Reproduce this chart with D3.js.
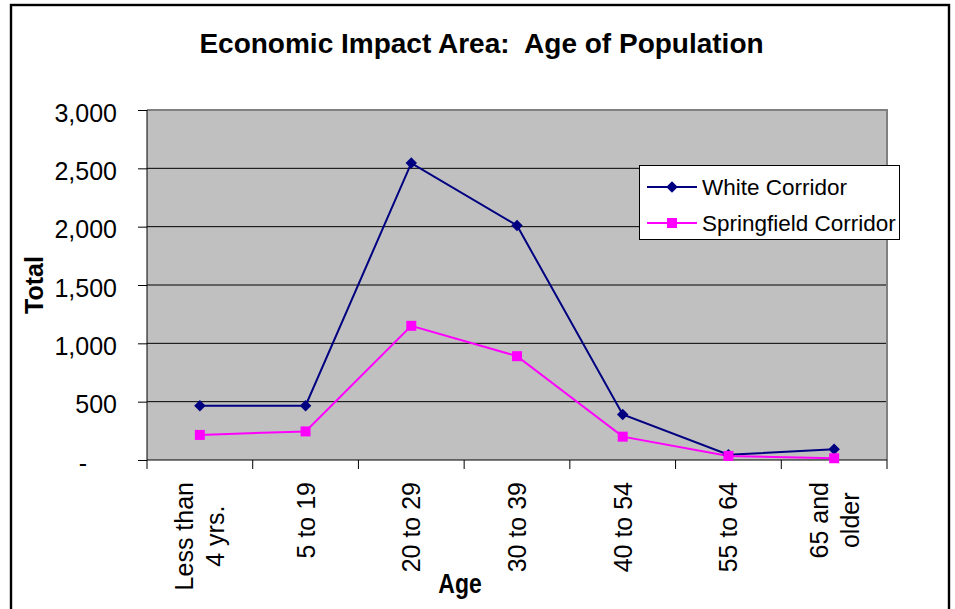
<!DOCTYPE html>
<html>
<head>
<meta charset="utf-8">
<script src="https://cdn.jsdelivr.net/npm/d3@7"></script>
<style>
  html, body { margin: 0; padding: 0; background: #fff; }
  svg { display: block; font-family: "Liberation Sans", Arial, sans-serif; }
  text { white-space: pre; }
</style>
</head>
<body>
<svg id="chart" width="955" height="609"></svg>
<script>
// Age groups (line breaks mark wrapped labels)
const categories = ["Less than\n4 yrs.", "5 to 19", "20 to 29", "30 to 39", "40 to 54", "55 to 64", "65 and\nolder"];
// Population totals per age group
const whiteCorridor = [465, 465, 2545, 2010, 390, 45, 92];
const springfieldCorridor = [215, 245, 1150, 890, 200, 35, 15];
// Value axis ticks
const yTicks = [0, 500, 1000, 1500, 2000, 2500, 3000];
const seriesNames = ["White Corridor", "Springfield Corridor"];

const title = "Economic Impact Area:  Age of Population";
const yTitle = "Total";
const xTitle = "Age";

const svg = d3.select("#chart");

const plot = { left: 147, right: 887, top: 110, bottom: 460 };

const x = d3.scaleBand().domain(categories).range([plot.left, plot.right]).padding(0);
const y = d3.scaleLinear().domain([0, 3000]).range([plot.bottom, plot.top]);
const cx = c => x(c) + x.bandwidth() / 2;

// outer chart frame
svg.append("rect")
  .attr("x", 11).attr("y", 5)
  .attr("width", 938).attr("height", 640)
  .attr("fill", "#fff").attr("stroke", "#000").attr("stroke-width", 2.4);

// title
svg.append("text")
  .attr("x", 481.5).attr("y", 53)
  .attr("text-anchor", "middle")
  .attr("font-size", 28).attr("font-weight", "bold")
  .text(title);

// plot background
svg.append("rect")
  .attr("x", plot.left).attr("y", plot.top)
  .attr("width", plot.right - plot.left).attr("height", plot.bottom - plot.top)
  .attr("fill", "#c0c0c0");

// horizontal gridlines
svg.append("g").selectAll("line")
  .data(yTicks.filter(d => d > 0 && d < 3000))
  .join("line")
  .attr("x1", plot.left).attr("x2", plot.right)
  .attr("y1", d => y(d)).attr("y2", d => y(d))
  .attr("stroke", "#000").attr("stroke-width", 1);

// plot border (top and right)
svg.append("path")
  .attr("d", `M${plot.left},${plot.top}H${plot.right}V${plot.bottom + 9}`)
  .attr("fill", "none").attr("stroke", "#808080").attr("stroke-width", 2);

// value axis
const yAxis = d3.axisLeft(y)
  .tickValues(yTicks)
  .tickSize(9)
  .tickPadding(21)
  .tickFormat(d => d === 0 ? "-" : d3.format(",")(d));

const gy = svg.append("g").attr("transform", `translate(${plot.left},0)`).call(yAxis);
gy.select(".domain").attr("d", `M0,${plot.top}V${plot.bottom + 9}`).attr("stroke", "#000");
gy.selectAll(".tick line").attr("stroke", "#000");
gy.selectAll(".tick text")
  .attr("font-size", 25).attr("font-family", "Liberation Sans, Arial, sans-serif")
  .attr("fill", "#000")
  .attr("dy", "0.44em")
  .attr("dx", d => d === 0 ? -30 : 0);

// category axis line and boundary ticks
const gx = svg.append("g");
gx.append("line")
  .attr("x1", plot.left).attr("x2", plot.right)
  .attr("y1", plot.bottom).attr("y2", plot.bottom)
  .attr("stroke", "#000");
gx.selectAll(".bound")
  .data(categories.slice(1))
  .join("line")
  .attr("class", "bound")
  .attr("x1", d => x(d)).attr("x2", d => x(d))
  .attr("y1", plot.bottom).attr("y2", plot.bottom + 9)
  .attr("stroke", "#000");

// rotated category labels
const lh = 31;
categories.forEach(c => {
  const lines = c.split("\n");
  const g = svg.append("g").attr("transform", `translate(${cx(c)},482) rotate(-90)`);
  const texts = lines.map((t, i) => g.append("text")
    .attr("font-size", 25)
    .attr("y", 9 - (lines.length - 1) * lh / 2 + i * lh)
    .text(t));
  const maxLen = d3.max(texts, t => t.node().getComputedTextLength());
  texts.forEach(t => t.attr("x", -maxLen / 2).attr("text-anchor", "middle"));
});

// axis titles
svg.append("text")
  .attr("transform", "translate(43,285) rotate(-90)")
  .attr("text-anchor", "middle")
  .attr("font-size", 25).attr("font-weight", "bold")
  .text(yTitle);

svg.append("text")
  .attr("transform", "translate(460,593) scale(0.82,1)")
  .attr("text-anchor", "middle")
  .attr("font-size", 28).attr("font-weight", "bold")
  .text(xTitle);

// series
const colors = ["#000080", "#ff00ff"];
const symbols = [
  d3.symbol().type(d3.symbolSquare).size(66),
  d3.symbol().type(d3.symbolSquare).size(100)
];
const rotations = [45, 0];
const series = [whiteCorridor, springfieldCorridor];

const line = d3.line().x((d, i) => cx(categories[i])).y(d => y(d));

series.forEach((vals, s) => {
  svg.append("path")
    .attr("d", line(vals))
    .attr("fill", "none")
    .attr("stroke", colors[s]).attr("stroke-width", 2);
});
series.forEach((vals, s) => {
  svg.append("g").selectAll("path")
    .data(vals)
    .join("path")
    .attr("d", symbols[s])
    .attr("transform", (d, i) => `translate(${cx(categories[i])},${y(d)}) rotate(${rotations[s]})`)
    .attr("fill", colors[s]);
});

// legend
const legend = svg.append("g");
legend.append("rect")
  .attr("x", 639.5).attr("y", 165.5)
  .attr("width", 260).attr("height", 74)
  .attr("fill", "#fff").attr("stroke", "#000").attr("stroke-width", 1);
seriesNames.forEach((name, s) => {
  const ly = 187 + s * 36;
  legend.append("line")
    .attr("x1", 647).attr("x2", 697)
    .attr("y1", ly).attr("y2", ly)
    .attr("stroke", colors[s]).attr("stroke-width", 2);
  legend.append("path")
    .attr("d", symbols[s])
    .attr("transform", `translate(672,${ly}) rotate(${rotations[s]})`)
    .attr("fill", colors[s]);
  legend.append("text")
    .attr("x", 702).attr("y", ly + 8)
    .attr("font-size", 22.5)
    .text(name);
});
</script>
</body>
</html>
